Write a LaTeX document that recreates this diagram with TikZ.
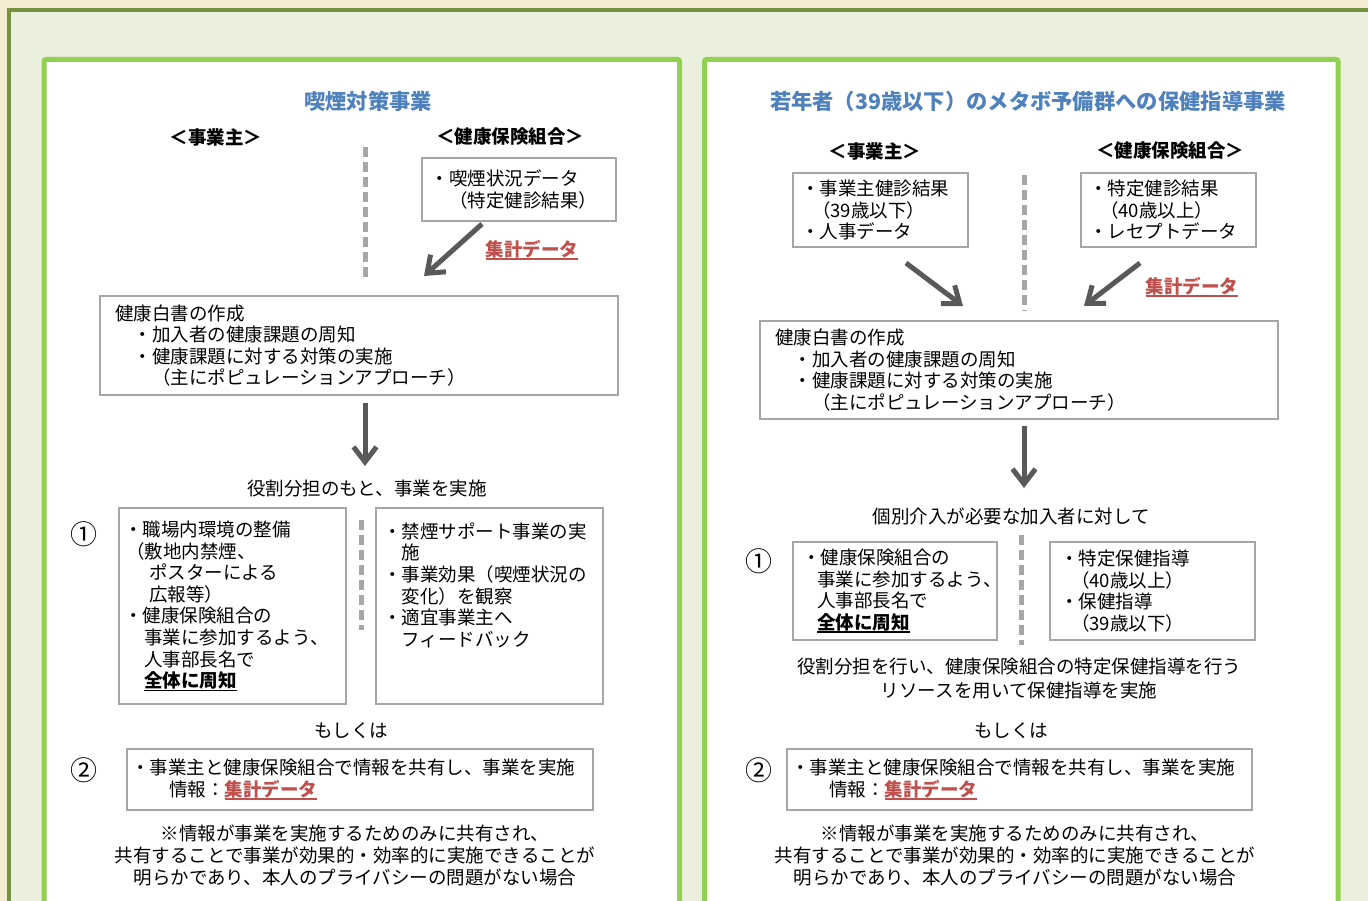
\documentclass[tikz,border=0pt]{standalone}
\usepackage{fontspec}
\setmainfont{Noto Sans CJK JP}
\usetikzlibrary{arrows.meta}
\definecolor{cream}{RGB}{246,236,210}
\definecolor{outerbg}{RGB}{235,239,222}
\definecolor{olive}{RGB}{119,146,60}
\definecolor{panelgreen}{RGB}{146,208,80}
\definecolor{titleblue}{RGB}{79,129,189}
\definecolor{boxgray}{RGB}{166,166,166}
\definecolor{arrowgray}{RGB}{89,89,89}
\definecolor{accentred}{RGB}{192,80,77}
\newcommand\myul[1]{\setbox0=\hbox{#1}\rlap{\rule[-3.5pt]{\wd0}{1.6pt}}\box0}
\newcommand\shukei{\textcolor{accentred}{\textbf{\myul{集計データ}}}}
\begin{document}
\begin{tikzpicture}[x=1pt,y=-1pt,
  every node/.style={font=\fontsize{18.5}{21.6}\selectfont, inner sep=0pt},
  panel/.style={draw=panelgreen, line width=5pt, fill=white, rounded corners=2pt},
  box/.style={draw=boxgray, line width=2.5pt, fill=white, align=left, inner ysep=0pt},
  heading/.style={font=\fontsize{21.3}{25}\selectfont\bfseries, text=titleblue},
  side/.style={font=\fontsize{18.5}{22}\selectfont\bfseries},
  note/.style={align=center, font=\fontsize{18.5}{22}\selectfont},
  num/.style={font=\fontsize{27}{28}\selectfont},
  bigarrow/.style={draw=arrowgray, line width=5pt, -{Straight Barb[length=15pt,width=23pt]}},
  divider/.style={draw=boxgray, line width=5pt, dash pattern=on 10pt off 5pt}
]
\useasboundingbox (0,0) rectangle (1368,901);
\clip (0,0) rectangle (1368,901);
% background
\fill[cream] (0,0) rectangle (1368,901);
\draw[olive, fill=outerbg, line width=4pt] (8.5,10.5) rectangle (1420,960);
\draw[panel] (44,59.5) rectangle (679.5,960);
\draw[panel] (704.5,59.5) rectangle (1338,960);

% ===== Left panel =====
\node[heading] (titleL) at (368,101) {喫煙対策事業};
\node[side] (empL) at (216,137) {＜事業主＞};
\node[side] (insL) at (510,137) {＜健康保険組合＞};
\coordinate (dL1) at (365,147);
\coordinate (dL2) at (365,281);
\draw[divider] (dL1) -- (dL2);
\node[box, minimum width=194pt, minimum height=63pt, text width=177pt, inner xsep=8.5pt] (dataL) at (519,189.5)
  {・喫煙状況データ\\　（特定健診結果）};
\coordinate (aL1s) at (482,224);
\coordinate (aL1e) at (424,276);
\draw[bigarrow] (aL1s) -- (aL1e);
\node (skL) at (532,250) {\shukei};
\node[box, minimum width=518pt, minimum height=99pt, text width=488pt, inner xsep=15pt] (hakL) at (359,345.5)
  {健康白書の作成\\　・加入者の健康課題の周知\\　・健康課題に対する対策の実施\\　　（主にポピュレーションアプローチ）};
\coordinate (aL2s) at (365,403);
\coordinate (aL2e) at (365,466);
\draw[bigarrow] (aL2s) -- (aL2e);
\node (roleL) at (367,489) {役割分担のもと、事業を実施};
\node[num] (n1L) at (83.5,534) {①};
\node[box, minimum width=227pt, minimum height=196pt, text width=217pt, inner xsep=5pt] (boxAL) at (232.5,606)
  {・職場内環境の整備\\
   \hspace*{2pt}（敷地内禁煙、\\
   \hspace*{25pt}ポスターによる\\
   \hspace*{25pt}広報等）\\
   ・健康保険組合の\\
   \hspace*{20pt}事業に参加するよう、\\
   \hspace*{20pt}人事部長名で\\
   \hspace*{20pt}\textbf{\myul{全体に周知}}};
\coordinate (dL3) at (361,520);
\coordinate (dL4) at (361,630);
\draw[divider] (dL3) -- (dL4);
\node[box, minimum width=227pt, minimum height=196pt, text width=213pt, inner xsep=7pt] (boxBL) at (489.5,606)
  {・禁煙サポート事業の実\\
   \hspace*{18.5pt}施\\
   ・事業効果（喫煙状況の\\
   \hspace*{18.5pt}変化）を観察\\
   ・適宜事業主へ\\
   \hspace*{18.5pt}フィードバック\\
   \mbox{}\\
   \mbox{}};
\node (orL) at (351,731) {もしくは};
\node[num] (n2L) at (83.5,770) {②};
\node[box, minimum width=466pt, minimum height=61pt, text width=458pt, inner xsep=4pt] (box2L) at (360,779.5)
  {・事業主と健康保険組合で情報を共有し、事業を実施\\
   \hspace*{38pt}情報：\shukei};
\node[note] (noteL) at (355,855)
  {※情報が事業を実施するためのみに共有され、\\共有することで事業が効果的・効率的に実施できることが\\明らかであり、本人のプライバシーの問題がない場合};

% ===== Right panel =====
\node[heading] (titleR) at (1028,101) {若年者（39歳以下）のメタボ予備群への保健指導事業};
\node[side] (empR) at (875,151) {＜事業主＞};
\node[side] (insR) at (1170,151) {＜健康保険組合＞};
\node[box, minimum width=175pt, minimum height=74pt, text width=159pt, inner xsep=8pt] (dataR1) at (880.5,210)
  {・事業主健診結果\\\hspace*{11pt}（39歳以下）\\・人事データ};
\node[box, minimum width=175pt, minimum height=74pt, text width=159pt, inner xsep=8pt] (dataR2) at (1168.5,210)
  {・特定健診結果\\\hspace*{11pt}（40歳以上）\\・レセプトデータ};
\coordinate (dR1) at (1024,175);
\coordinate (dR2) at (1024,311);
\draw[divider] (dR1) -- (dR2);
\coordinate (aR1s) at (906,263);
\coordinate (aR1e) at (963,306);
\draw[bigarrow] (aR1s) -- (aR1e);
\coordinate (aR2s) at (1140,263);
\coordinate (aR2e) at (1084,306);
\draw[bigarrow] (aR2s) -- (aR2e);
\node (skR) at (1192,287) {\shukei};
\node[box, minimum width=518pt, minimum height=98pt, text width=488pt, inner xsep=15pt] (hakR) at (1019,370)
  {健康白書の作成\\　・加入者の健康課題の周知\\　・健康課題に対する対策の実施\\　　（主にポピュレーションアプローチ）};
\coordinate (aR3s) at (1024,426);
\coordinate (aR3e) at (1024,488);
\draw[bigarrow] (aR3s) -- (aR3e);
\node (indivR) at (1011,516) {個別介入が必要な加入者に対して};
\node[num] (n1R) at (758.5,561) {①};
\node[box, minimum width=204pt, minimum height=98pt, text width=186pt, inner xsep=9pt] (boxAR) at (895,591)
  {・健康保険組合の\\
   \hspace*{15pt}事業に参加するよう、\\
   \hspace*{15pt}人事部長名で\\
   \hspace*{15pt}\textbf{\myul{全体に周知}}};
\coordinate (dR3) at (1021,535);
\coordinate (dR4) at (1021,645);
\draw[divider] (dR3) -- (dR4);
\node[box, minimum width=205pt, minimum height=98pt, text width=185pt, inner xsep=10pt] (boxBR) at (1152.5,591)
  {・特定保健指導\\
   \hspace*{11pt}（40歳以上）\\
   ・保健指導\\
   \hspace*{11pt}（39歳以下）};
\node[note, font=\fontsize{18.5}{24}\selectfont] (roleR) at (1019,678)
  {役割分担を行い、健康保険組合の特定保健指導を行う\\リソースを用いて保健指導を実施};
\node (orR) at (1011,731) {もしくは};
\node[num] (n2R) at (758.5,770) {②};
\node[box, minimum width=465pt, minimum height=61pt, text width=457pt, inner xsep=4pt] (box2R) at (1019.5,779.5)
  {・事業主と健康保険組合で情報を共有し、事業を実施\\
   \hspace*{38pt}情報：\shukei};
\node[note] (noteR) at (1015,855)
  {※情報が事業を実施するためのみに共有され、\\共有することで事業が効果的・効率的に実施できることが\\明らかであり、本人のプライバシーの問題がない場合};
\end{tikzpicture}
\end{document}
